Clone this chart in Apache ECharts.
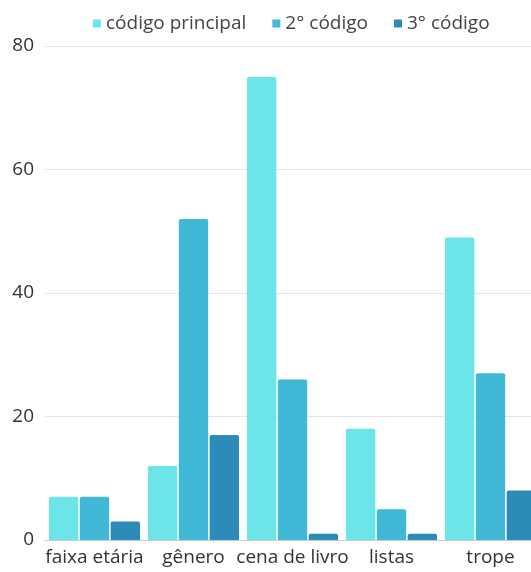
<!DOCTYPE html>
<html>
<head>
<meta charset="utf-8">
<script src="https://cdn.jsdelivr.net/npm/echarts@6/dist/echarts.min.js"></script>
<style>
html,body{margin:0;padding:0;background:#fff;}
#chart{width:531px;height:572px;}
</style>
</head>
<body>
<div id="chart"></div>
<script>
const categories = ['faixa etária', 'gênero', 'cena de livro', 'listas', 'trope'];
const seriesNames = ['código principal', '2° código', '3° código'];
const principal = [7, 12, 75, 18, 49];
const segundo = [7, 52, 26, 5, 27];
const terceiro = [3, 17, 1, 1, 8];
const yTicks = [0, 20, 40, 60, 80];
const colors = ['#6CE5E8', '#41B8D5', '#2D8BBA'];

const chart = echarts.init(document.getElementById('chart'), null, {renderer: 'canvas'});
const font = 'Open Sans';
const values = [principal, segundo, terceiro];
chart.setOption({
  animation: false,
  textStyle: {fontFamily: font},
  legend: {
    top: 9,
    left: 88,
    itemWidth: 8,
    itemHeight: 8,
    itemGap: 26,
    icon: 'rect',
    textStyle: {fontSize: 19, color: '#444', fontFamily: font},
    data: seriesNames
  },
  grid: {left: 45, top: 46, width: 495, height: 494, containLabel: false, outerBoundsMode: 'none'},
  xAxis: {
    type: 'category',
    data: categories,
    axisTick: {show: false},
    axisLine: {lineStyle: {color: '#ccc'}},
    axisLabel: {fontSize: 19, color: '#333', margin: 8, fontFamily: font, interval: 0}
  },
  yAxis: {
    type: 'value',
    min: yTicks[0],
    max: yTicks[yTicks.length - 1],
    interval: 20,
    axisLine: {show: false},
    axisTick: {show: false},
    splitLine: {lineStyle: {color: '#e6e6e6'}},
    axisLabel: {fontSize: 19, color: '#333', margin: 11, fontFamily: font}
  },
  series: seriesNames.map((n, i) => ({
    name: n,
    type: 'bar',
    data: values[i],
    barGap: '5%',
    barCategoryGap: '8%',
    itemStyle: {color: colors[i], borderRadius: [2, 2, 0, 0]}
  }))
});
</script>
</body>
</html>
